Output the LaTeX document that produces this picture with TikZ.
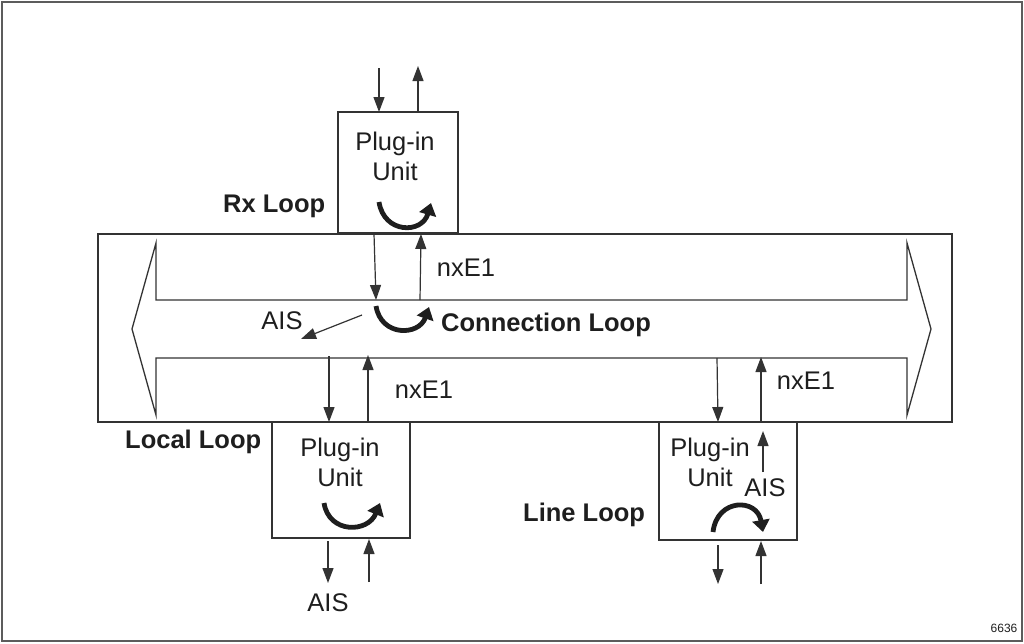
\documentclass[tikz,border=0pt]{standalone}
\usepackage{fontspec}
\setmainfont{Liberation Sans}
\usetikzlibrary{arrows.meta}
\definecolor{ln}{HTML}{333333}
\definecolor{tx}{HTML}{1E1E1E}
\tikzset{
  frame/.style={draw=ln, line width=1.2pt},
  box/.style={draw=ln, line width=1.4pt, fill=white, inner sep=0pt},
  sig/.style={draw=ln, line width=1.2pt, -{Triangle[length=15pt,width=11pt]}},
  loop/.style={draw=tx, line width=4.8pt, -{Triangle[length=12pt,width=17pt]}},
  lbl/.style={text=tx, font=\fontsize{25.5}{30}\selectfont, inner sep=0pt, align=center},
  blbl/.style={text=tx, font=\fontsize{25.5}{30}\selectfont\bfseries, inner sep=0pt},
}
\begin{document}
\begin{tikzpicture}[x=1pt,y=-1pt]
\useasboundingbox (0,0) rectangle (1024,643);
\fill[white] (0,0) rectangle (1024,643);
\draw[frame, draw=ln!80] (2,2) rectangle (1022,641);

% big rectangle and double arrow
\node[box, minimum width=854pt, minimum height=188pt] (bus) at (525,328) {};
\draw[ln, line width=1.3pt, line join=miter]
  (132,329) -- (156,243) -- (156,300) -- (907,300) -- (907,243) -- (931,329)
  -- (907,415) -- (907,358) -- (156,358) -- (156,415) -- cycle;

% plug-in units
\node[box, minimum width=120pt, minimum height=121pt] (rx) at (398,172.5) {};
\node[box, minimum width=138pt, minimum height=116pt] (loc) at (341,480) {};
\node[box, minimum width=138pt, minimum height=118pt] (lin) at (728,481) {};

\node[lbl] (rxt) at (395,156) {Plug-in\\Unit};
\node[lbl] (loct) at (340,462) {Plug-in\\Unit};
\node[lbl] (lint) at (710,462) {Plug-in\\Unit};

% coordinates for signal arrows
\coordinate (a1) at (379,68);  \coordinate (a2) at (379,112);
\coordinate (b1) at (418,112); \coordinate (b2) at (418,66);
\coordinate (c1) at (374,234); \coordinate (c2) at (376,300);
\coordinate (d1) at (420,300); \coordinate (d2) at (421,234);
\coordinate (e1) at (329,356); \coordinate (e2) at (329,422);
\coordinate (f1) at (368,422); \coordinate (f2) at (368,355);
\coordinate (g1) at (717,358); \coordinate (g2) at (718,422);
\coordinate (h1) at (761,422); \coordinate (h2) at (761,357);
\coordinate (i1) at (328,541); \coordinate (i2) at (328,583);
\coordinate (j1) at (369,582); \coordinate (j2) at (369,539);
\coordinate (k1) at (718,545); \coordinate (k2) at (718,584);
\coordinate (l1) at (761,584); \coordinate (l2) at (761,541);
\coordinate (m1) at (763,472); \coordinate (m2) at (763,431);
\coordinate (n1) at (362,315); \coordinate (n2) at (301,339);

\foreach \s/\e in {a1/a2,b1/b2,c1/c2,d1/d2,e1/e2,f1/f2,g1/g2,h1/h2,i1/i2,j1/j2,k1/k2,l1/l2,m1/m2,n1/n2}
  \draw[sig] (\s) -- (\e);

% loop arrows
\draw[loop] (379,202) .. controls (384,234) and (422,234) .. (431,203);
\draw[loop] (376,306) .. controls (381,337) and (419,336) .. (429,307);
\draw[loop] (324,503) .. controls (329,534) and (368,533) .. (380,503);
\draw[loop] (713,532) .. controls (717,498) and (757,498) .. (763,532);

% labels
\node[lbl] (t1) at (466,268) {nxE1};
\node[lbl] (t2) at (424,390) {nxE1};
\node[lbl] (t3) at (806,381) {nxE1};
\node[lbl] (ais1) at (282,321) {AIS};
\node[lbl] (ais2) at (328,603) {AIS};
\node[lbl] (ais3) at (765,488) {AIS};
\node[blbl, anchor=west] (rxl) at (223,206) {Rx Loop};
\node[blbl, anchor=west] (cl) at (441,325) {Connection Loop};
\node[blbl, anchor=west] (ll) at (125,442) {Local Loop};
\node[blbl, anchor=west] (lnl) at (523,515) {Line Loop};
\node[text=tx, font=\fontsize{12}{14}\selectfont, inner sep=0pt] (num) at (1004,628) {6636};
\end{tikzpicture}
\end{document}
